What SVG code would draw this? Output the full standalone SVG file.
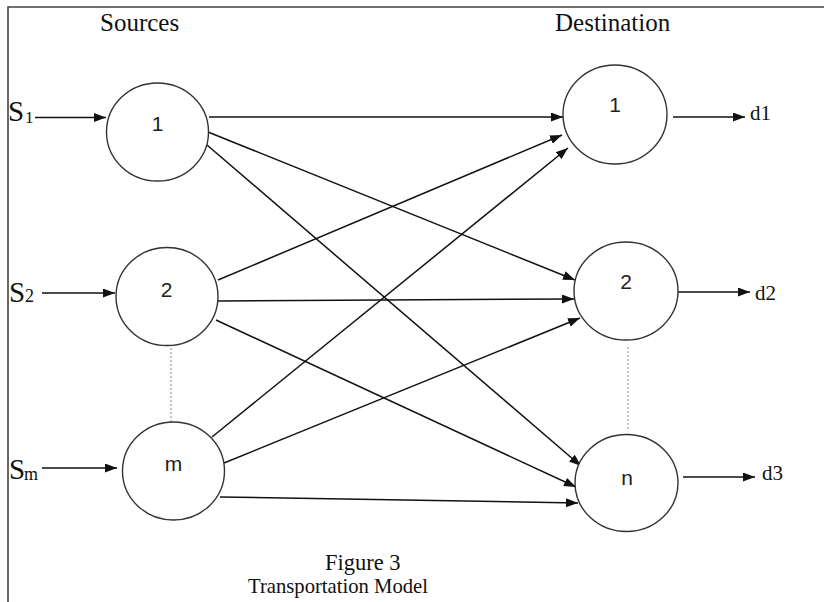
<svg xmlns="http://www.w3.org/2000/svg" width="824" height="602" viewBox="0 0 824 602">
  <defs>
    <marker id="arrow" markerUnits="userSpaceOnUse" markerWidth="13" markerHeight="9" refX="12" refY="4.5" orient="auto">
      <path d="M0,0 L12,4.5 L0,9 z" fill="#111"/>
    </marker>
    <style>
      .node { fill: #fff; stroke: #333; stroke-width: 1.4; }
      .nlabel { font-family: "Liberation Sans", Arial, sans-serif; font-size: 21px; fill: #222; text-anchor: middle; }
      .serif { font-family: "Liberation Serif", "Times New Roman", serif; fill: #111; }
      .edge { stroke: #111; stroke-width: 1.5; fill: none; marker-end: url(#arrow); }
      .dots { stroke: #888; stroke-width: 1; stroke-dasharray: 2 2; fill: none; }
      .frame { stroke: #444; stroke-width: 1.6; fill: none; }
    </style>
  </defs>

  <rect width="824" height="602" fill="#fff"/>

  <!-- frame: top and left rules -->
  <path class="frame" d="M8,602 L8,7 L824,7"/>

  <!-- column headings -->
  <text class="serif" x="100" y="31" font-size="25">Sources</text>
  <text class="serif" x="555" y="31" font-size="25">Destination</text>

  <!-- supply labels -->
  <g id="supply-labels">
    <text class="serif" x="8" y="121" font-size="29">S</text>
    <text class="serif" x="25" y="123" font-size="17">1</text>
    <text class="serif" x="9" y="302" font-size="29">S</text>
    <text class="serif" x="25" y="302" font-size="18">2</text>
    <text class="serif" x="9" y="479" font-size="29">S</text>
    <text class="serif" x="24" y="480" font-size="18">m</text>
  </g>

  <!-- demand labels -->
  <g id="demand-labels">
    <text class="serif" x="750" y="120" font-size="21">d1</text>
    <text class="serif" x="755" y="300" font-size="21">d2</text>
    <text class="serif" x="762" y="480" font-size="21">d3</text>
  </g>

  <!-- connectors -->
  <g id="connectors">
    <!-- supply inputs -->
    <line class="edge" x1="35" y1="117.5" x2="106" y2="117.5"/>
    <line class="edge" x1="42" y1="293" x2="115" y2="293"/>
    <line class="edge" x1="42" y1="468" x2="117" y2="468"/>
    <!-- demand outputs -->
    <line class="edge" x1="673" y1="117" x2="745" y2="117"/>
    <line class="edge" x1="678" y1="292" x2="750" y2="292"/>
    <line class="edge" x1="683" y1="477" x2="755" y2="477"/>
    <!-- from source 1 -->
    <line class="edge" x1="209" y1="117" x2="563" y2="117"/>
    <line class="edge" x1="208" y1="132" x2="575" y2="280"/>
    <line class="edge" x1="207" y1="145" x2="581" y2="466"/>
    <!-- from source 2 -->
    <line class="edge" x1="218" y1="280" x2="562" y2="135"/>
    <line class="edge" x1="218" y1="301" x2="574" y2="299"/>
    <line class="edge" x1="216" y1="320" x2="576" y2="487"/>
    <!-- from source m -->
    <line class="edge" x1="212" y1="437" x2="568" y2="148"/>
    <line class="edge" x1="224" y1="463" x2="580" y2="318"/>
    <line class="edge" x1="220" y1="497" x2="578" y2="503"/>
    <!-- ellipsis between nodes -->
    <line class="dots" x1="171" y1="348" x2="171" y2="422"/>
    <line class="dots" x1="628" y1="347" x2="628" y2="430"/>
  </g>

  <!-- source nodes -->
  <g id="source-1">
    <ellipse class="node" cx="157.5" cy="132" rx="51" ry="49"/>
    <text class="nlabel" x="157.5" y="131">1</text>
  </g>
  <g id="source-2">
    <ellipse class="node" cx="167" cy="296.5" rx="51" ry="49"/>
    <text class="nlabel" x="166.5" y="297">2</text>
  </g>
  <g id="source-m">
    <ellipse class="node" cx="173.5" cy="471" rx="51" ry="49"/>
    <text class="nlabel" x="173.5" y="471">m</text>
  </g>

  <!-- destination nodes -->
  <g id="destination-1">
    <ellipse class="node" cx="615" cy="114.5" rx="52" ry="49.5"/>
    <text class="nlabel" x="615" y="112">1</text>
  </g>
  <g id="destination-2">
    <ellipse class="node" cx="626" cy="291" rx="52" ry="49"/>
    <text class="nlabel" x="626" y="289">2</text>
  </g>
  <g id="destination-n">
    <ellipse class="node" cx="626.5" cy="483" rx="51.5" ry="48.5"/>
    <text class="nlabel" x="627" y="485">n</text>
  </g>

  <!-- caption -->
  <text class="serif" x="325" y="570" font-size="22.5">Figure 3</text>
  <text class="serif" x="248" y="593" font-size="22" textLength="180" lengthAdjust="spacingAndGlyphs">Transportation Model</text>
</svg>
